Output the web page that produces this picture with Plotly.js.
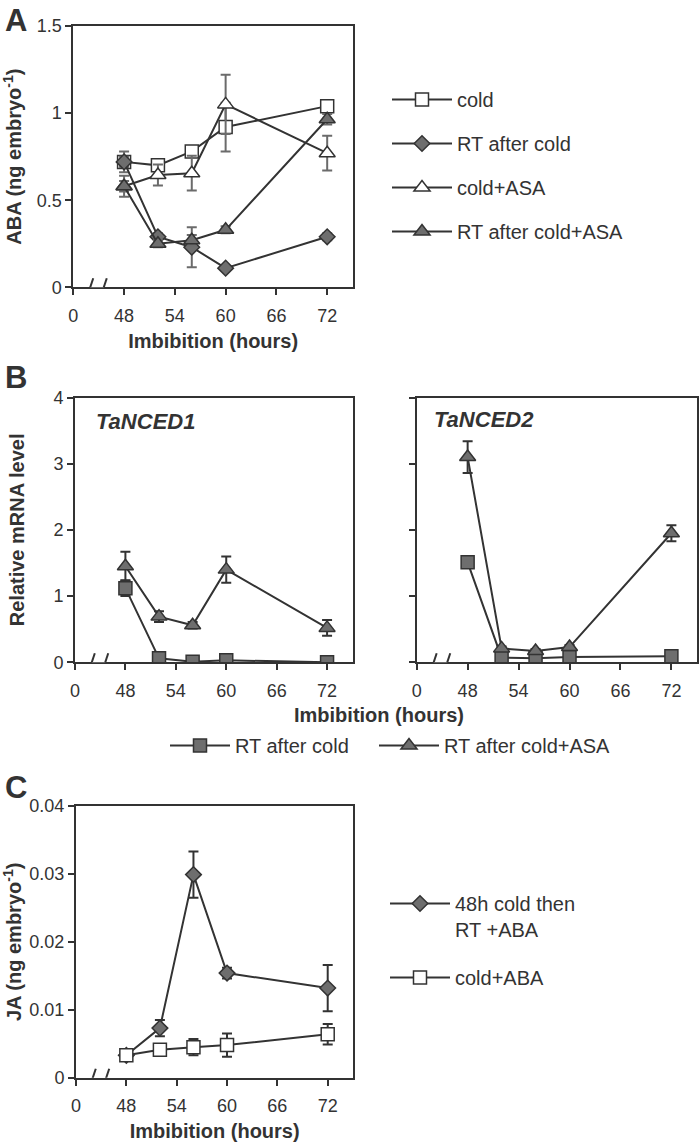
<!DOCTYPE html>
<html>
<head>
<meta charset="utf-8">
<script src="https://cdn.plot.ly/plotly-3.0.1.min.js"></script>
<style>html,body{margin:0;padding:0;background:#fff;}#chart{width:700px;height:1144px;}</style>
</head>
<body>
<div id="chart"></div>
<script>
// ---- data ----
var hours = [48, 52, 56, 60, 72];
var xTickVals = [42, 48, 54, 60, 66, 72];
var xTickText = ['0', '48', '54', '60', '66', '72'];

// Panel A: ABA (ng embryo-1)
var abaCold = [0.72, 0.70, 0.78, 0.92, 1.04];
var abaColdErr = [0.06, 0.02, 0.03, 0.14, 0.02];
var abaRT = [0.72, 0.29, 0.23, 0.11, 0.29];
var abaRTErr = [0.03, 0.02, 0.115, 0.01, 0.02];
var abaColdASA = [0.58, 0.645, 0.655, 1.05, 0.77];
var abaColdASAErr = [0.03, 0.06, 0.10, 0.17, 0.10];
var abaRTASA = [0.58, 0.25, 0.27, 0.33, 0.965];
var abaRTASAErr = [0.06, 0.02, 0.03, 0.02, 0.03];

// Panel B: relative mRNA level
var nced1RT = [1.12, 0.06, 0.01, 0.03, 0.0];
var nced1RTErr = [0.12, 0.01, 0.01, 0.01, 0.01];
var nced1ASA = [1.45, 0.69, 0.56, 1.40, 0.52];
var nced1ASAErr = [0.22, 0.08, 0.05, 0.20, 0.12];
var nced2RT = [1.51, 0.07, 0.06, 0.08, 0.09];
var nced2RTErr = [0.05, 0.01, 0.01, 0.01, 0.01];
var nced2ASA = [3.10, 0.21, 0.17, 0.23, 1.95];
var nced2ASAErr = [0.24, 0.03, 0.03, 0.03, 0.12];

// Panel C: JA (ng embryo-1)
var jaRT = [0.0033, 0.0073, 0.0299, 0.0154, 0.0132];
var jaRTErr = [0, 0.0012, 0.0034, 0.0008, 0.0034];
var jaCold = [0.0033, 0.0041, 0.0045, 0.0048, 0.0064];
var jaColdErr = [0.0003, 0.0004, 0.0012, 0.0017, 0.0015];

// ---- styles ----
var DARK = '#333333';
var GRAY = '#6e6e6e';
var FONT = 'Liberation Sans, Arial, sans-serif';

function tr(name, y, err, ax, sym, fill, size, errColor, legend, show) {
  return {
    type: 'scatter', mode: 'lines+markers', name: name,
    x: hours, y: y,
    xaxis: 'x' + (ax === 1 ? '' : ax), yaxis: 'y' + (ax === 1 ? '' : ax),
    line: {color: DARK, width: 2},
    marker: {symbol: sym, size: size, color: fill, line: {color: DARK, width: 1.5}},
    error_y: {type: 'data', array: err, visible: true, color: errColor, thickness: 2, width: 5},
    legend: legend, showlegend: show, legendgroup: name + ax
  };
}

var EA = '#6b6b6b';
var data = [
  tr('cold', abaCold, abaColdErr, 1, 'square', '#ffffff', 13, EA, 'legend', true),
  tr('RT after cold', abaRT, abaRTErr, 1, 'diamond', GRAY, 12, EA, 'legend', true),
  tr('cold+ASA', abaColdASA, abaColdASAErr, 1, 'triangle-up', '#ffffff', 14, EA, 'legend', true),
  tr('RT after cold+ASA', abaRTASA, abaRTASAErr, 1, 'triangle-up', GRAY, 14, EA, 'legend', true),

  tr('RT after cold', nced1RT, nced1RTErr, 2, 'square', GRAY, 13, DARK, 'legend2', true),
  tr('RT after cold+ASA', nced1ASA, nced1ASAErr, 2, 'triangle-up', GRAY, 14, DARK, 'legend4', true),
  tr('RT after cold', nced2RT, nced2RTErr, 3, 'square', GRAY, 13, DARK, 'legend2', false),
  tr('RT after cold+ASA', nced2ASA, nced2ASAErr, 3, 'triangle-up', GRAY, 14, DARK, 'legend4', false),

  tr('48h cold then<br>RT +ABA', jaRT, jaRTErr, 4, 'diamond', GRAY, 12, DARK, 'legend3', true),
  tr('cold+ABA', jaCold, jaColdErr, 4, 'square', '#ffffff', 13, DARK, 'legend3', true)
];

function px(v) { return v / 700; }
function py(v) { return 1 - v / 1144; }

function xax(dom, anchor) {
  return {
    domain: dom, anchor: anchor, range: [42, 75.05],
    tickvals: xTickVals, ticktext: xTickText,
    showline: true, linecolor: DARK, linewidth: 2, mirror: true,
    ticks: 'outside', ticklen: 6, tickwidth: 2, tickcolor: DARK,
    showgrid: false, zeroline: false, fixedrange: true,
    tickfont: {family: FONT, size: 18, color: DARK}, ticklabelstandoff: 5
  };
}
function yax(dom, anchor, range, dtick, title, standoff, showLabels) {
  var a = {
    domain: dom, anchor: anchor, range: range, dtick: dtick, tick0: 0,
    showline: true, linecolor: DARK, linewidth: 2, mirror: true,
    ticks: 'outside', ticklen: 6, tickwidth: 2, tickcolor: DARK,
    showticklabels: showLabels,
    showgrid: false, zeroline: false, fixedrange: true,
    tickfont: {family: FONT, size: 18, color: DARK}
  };
  if (title) a.title = {text: title, font: {family: FONT, size: 20, color: DARK}, standoff: standoff};
  return a;
}

var yA = [py(287.3), py(26)];
var yB = [py(662.3), py(397.5)];
var yC = [py(1077.7), py(806)];
var xTitle = {text: '<b>Imbibition (hours)</b>', font: {family: FONT, size: 20, color: DARK}, standoff: 9};

function legendBox(x, y, extra) {
  return Object.assign({
    x: px(x), y: py(y), xanchor: 'left', yanchor: 'top',
    font: {family: FONT, size: 20, color: DARK}, bgcolor: 'rgba(0,0,0,0)',
    itemwidth: 60
  }, extra);
}

var layout = {
  width: 700, height: 1144,
  margin: {l: 0, r: 0, t: 0, b: 0},
  paper_bgcolor: '#ffffff', plot_bgcolor: '#ffffff',
  font: {family: FONT, color: DARK},
  xaxis: Object.assign(xax([px(73.3), px(353)], 'y'), {title: xTitle}),
  yaxis: yax(yA, 'x', [0, 1.5], 0.5, '<b>ABA (ng embryo<sup>-1</sup>)</b>', 11, true),
  xaxis2: xax([px(75), px(352.7)], 'y2'),
  yaxis2: yax(yB, 'x2', [0, 4], 1, '<b>Relative mRNA level</b>', 23, true),
  xaxis3: xax([px(416.7), px(697.3)], 'y3'),
  yaxis3: yax(yB, 'x3', [0, 4], 1, null, 0, false),
  xaxis4: Object.assign(xax([px(76), px(353.3)], 'y4'), {title: xTitle}),
  yaxis4: yax(yC, 'x4', [0, 0.04], 0.01, '<b>JA (ng embryo<sup>-1</sup>)</b>', 5, true),
  legend: legendBox(387, 80, {traceorder: 'grouped', tracegroupgap: 15}),
  legend2: legendBox(165, 726, {orientation: 'h'}),
  legend4: legendBox(374, 726, {orientation: 'h'}),
  legend3: legendBox(385, 884, {valign: 'top', traceorder: 'grouped', tracegroupgap: 19}),
  annotations: [
    {text: '<b>A</b>', xref: 'paper', yref: 'paper', x: px(3), y: py(1), xanchor: 'left', yanchor: 'top', showarrow: false, font: {family: FONT, size: 31, color: DARK}},
    {text: '<b>B</b>', xref: 'paper', yref: 'paper', x: px(3), y: py(358), xanchor: 'left', yanchor: 'top', showarrow: false, font: {family: FONT, size: 31, color: DARK}},
    {text: '<b>C</b>', xref: 'paper', yref: 'paper', x: px(3), y: py(768), xanchor: 'left', yanchor: 'top', showarrow: false, font: {family: FONT, size: 31, color: DARK}},
    {text: '<b><i>TaNCED1</i></b>', xref: 'paper', yref: 'paper', x: px(94), y: py(421), xanchor: 'left', yanchor: 'middle', showarrow: false, font: {family: FONT, size: 22, color: DARK}},
    {text: '<b><i>TaNCED2</i></b>', xref: 'paper', yref: 'paper', x: px(432), y: py(419), xanchor: 'left', yanchor: 'middle', showarrow: false, font: {family: FONT, size: 22, color: DARK}},
    {text: '<b>Imbibition (hours)</b>', xref: 'paper', yref: 'paper', x: px(379), y: py(715), xanchor: 'center', yanchor: 'middle', showarrow: false, font: {family: FONT, size: 20, color: DARK}}
  ],
  shapes: []
};

// axis break marks "//" on each x axis
[['x', 'y'], ['x2', 'y2'], ['x3', 'y3'], ['x4', 'y4']].forEach(function (p) {
  layout.shapes.push({type: 'rect', layer: 'above', xref: p[0], yref: p[1],
    xsizemode: 'scaled', ysizemode: 'pixel', yanchor: 0, x0: 44.0, x1: 45.6, y0: -3, y1: 3,
    fillcolor: '#ffffff', line: {width: 0}});
  [44.0, 45.6].forEach(function (xv) {
    layout.shapes.push({type: 'line', layer: 'above', xref: p[0], yref: p[1],
      xsizemode: 'pixel', xanchor: xv, ysizemode: 'pixel', yanchor: 0,
      x0: -3, x1: 3, y0: -9, y1: 9, line: {color: DARK, width: 2}});
  });
});

Plotly.newPlot('chart', data, layout, {displayModeBar: false, staticPlot: true});
</script>
</body>
</html>
